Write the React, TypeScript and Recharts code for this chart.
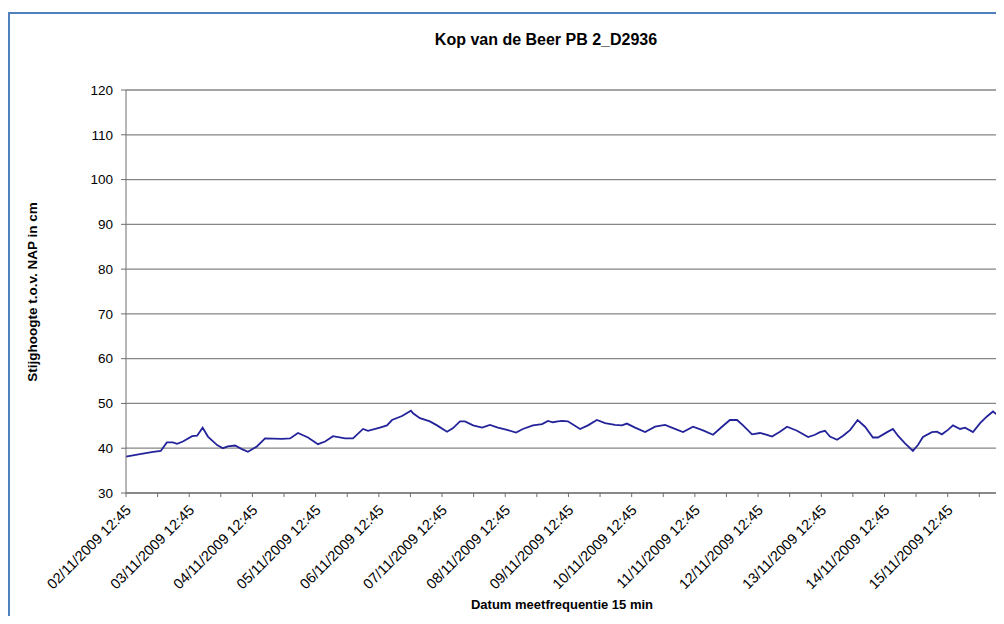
import React from 'react';
import { LineChart, Line, XAxis, YAxis, CartesianGrid } from 'recharts';

// hours since 02/11/2009 12:45
const hours = [0, 5.3, 10.3, 13.2, 15.5, 17.8, 19.4, 21.6, 25.1, 27.0, 29.1, 31.1, 34.6, 36.8, 38.7, 41.4, 44.0, 46.3, 49.7, 52.8,
  59.2, 62.3, 65.3, 69.1, 72.9, 75.6, 78.6, 83.2, 86.2, 90.0, 91.9, 96.4, 99.1, 101.0, 104.8, 108.2,
  109.0, 111.6, 115.4, 118.1, 121.9, 124.2, 126.8, 128.7, 131.8, 135.2, 138.2, 141.2, 144.7, 148.1, 150.7, 154.5, 158.0, 160.2, 162.1, 164.0,
  165.6, 167.8, 172.4, 175.4, 178.8, 181.9, 185.7, 188.3, 190.2, 193.3, 197.1, 200.9, 204.7, 207.7, 211.5, 215.3, 219.1,
  222.9, 226.3, 229.3, 232.0, 234.3, 237.7, 240.7, 243.4, 245.3, 248.3, 251.0, 254.8, 259.0, 261.6, 263.5, 265.4, 267.3, 270.0, 272.3, 275.0,
  277.8, 280.6, 283.6, 285.5, 289.0, 291.2, 293.1, 295.8, 298.8, 300.7, 302.6, 306.0, 307.9, 309.8, 312.1, 314.0, 316.7, 318.6, 321.6, 324.3, 326.9, 329.2, 331.1];

const levels = [38.1, 38.7, 39.2, 39.4, 41.3, 41.3, 41.0, 41.5, 42.7, 42.8, 44.6, 42.6, 40.7, 40.0, 40.4, 40.6, 39.8, 39.2, 40.4, 42.2,
  42.1, 42.2, 43.4, 42.4, 40.9, 41.5, 42.7, 42.2, 42.2, 44.3, 43.9, 44.6, 45.1, 46.3, 47.2, 48.4,
  47.8, 46.7, 46.0, 45.1, 43.7, 44.5, 46.0, 46.0, 45.1, 44.6, 45.2, 44.6, 44.1, 43.5, 44.3, 45.1, 45.4, 46.1, 45.8, 46.0,
  46.1, 46.0, 44.3, 45.1, 46.3, 45.6, 45.2, 45.1, 45.5, 44.6, 43.6, 44.8, 45.2, 44.5, 43.6, 44.8, 44.0,
  43.0, 44.8, 46.3, 46.3, 45.1, 43.1, 43.4, 43.0, 42.6, 43.7, 44.8, 43.9, 42.5, 43.0, 43.6, 43.9, 42.6, 41.9, 42.8, 44.1,
  46.3, 44.8, 42.4, 42.4, 43.6, 44.3, 42.8, 41.1, 39.4, 40.7, 42.5, 43.6, 43.7, 43.1, 44.1, 45.1, 44.3, 44.6, 43.6, 45.6, 47.1, 48.2, 47.3];

const dateLabels = ['02/11/2009 12:45', '03/11/2009 12:45', '04/11/2009 12:45', '05/11/2009 12:45', '06/11/2009 12:45',
  '07/11/2009 12:45', '08/11/2009 12:45', '09/11/2009 12:45', '10/11/2009 12:45', '11/11/2009 12:45',
  '12/11/2009 12:45', '13/11/2009 12:45', '14/11/2009 12:45', '15/11/2009 12:45'];

const yTicks = [30, 40, 50, 60, 70, 80, 90, 100, 110, 120];
const xTicks = Array.from({ length: 28 }, (_, i) => i * 12);

const data = hours.map((h, i) => ({ h, v: levels[i] }));

const FONT = '"Liberation Sans", Arial, sans-serif';

const DateTick = (props: any) => {
  const { x, y, payload } = props;
  const idx = payload.value / 24;
  const label = Number.isInteger(idx) ? dateLabels[idx] : '';
  if (!label) return null;
  return (
    <g transform={`translate(${x + 6},${y + 12})`}>
      <text x={0} y={0} textAnchor="end" transform="rotate(-45)" fontSize={14.5} fill="#000" fontFamily={FONT}>
        {label}
      </text>
    </g>
  );
};

export default function App() {
  return (
    <div style={{ position: 'relative', width: 994, height: 602, marginTop: 4, borderLeft: '2px solid #4f81bd', borderTop: '2px solid #4f81bd', fontFamily: FONT }}>
      <div style={{ position: 'absolute', left: 536, top: 17, transform: 'translateX(-50%)', fontSize: 16, fontWeight: 'bold', whiteSpace: 'nowrap', lineHeight: '18px' }}>
        Kop van de Beer PB 2_D2936
      </div>
      <div style={{ position: 'absolute', left: 552, top: 583, transform: 'translateX(-50%)', fontSize: 13, fontWeight: 'bold', whiteSpace: 'nowrap', lineHeight: '16px' }}>
        Datum meetfrequentie 15 min
      </div>
      <div style={{ position: 'absolute', left: 23, top: 278, transform: 'translate(-50%,-50%) rotate(-90deg)', fontSize: 13.5, fontWeight: 'bold', whiteSpace: 'nowrap', lineHeight: '16px' }}>
        Stijghoogte t.o.v. NAP in cm
      </div>
      <LineChart width={994} height={602} data={data} margin={{ top: 76, right: 6, bottom: 10, left: 56 }}>
        <CartesianGrid horizontal={true} vertical={false} stroke="#868686" strokeWidth={1.3} />
        <XAxis
          dataKey="h"
          type="number"
          domain={[0, 331]}
          ticks={xTicks}
          interval={0}
          height={113}
          tick={<DateTick />}
          tickLine={{ stroke: '#6e6e6e' }}
          tickSize={4}
          axisLine={{ stroke: '#6e6e6e' }}
        />
        <YAxis
          type="number"
          domain={[30, 120]}
          ticks={yTicks}
          interval={0}
          width={60}
          tickSize={5}
          tickMargin={8}
          tick={{ fontSize: 13.5, fill: '#000', fontFamily: FONT }}
          tickLine={{ stroke: '#6e6e6e' }}
          axisLine={{ stroke: '#6e6e6e' }}
        />
        <Line type="linear" dataKey="v" stroke="#23239a" strokeWidth={1.8} dot={false} isAnimationActive={false} />
      </LineChart>
    </div>
  );
}
